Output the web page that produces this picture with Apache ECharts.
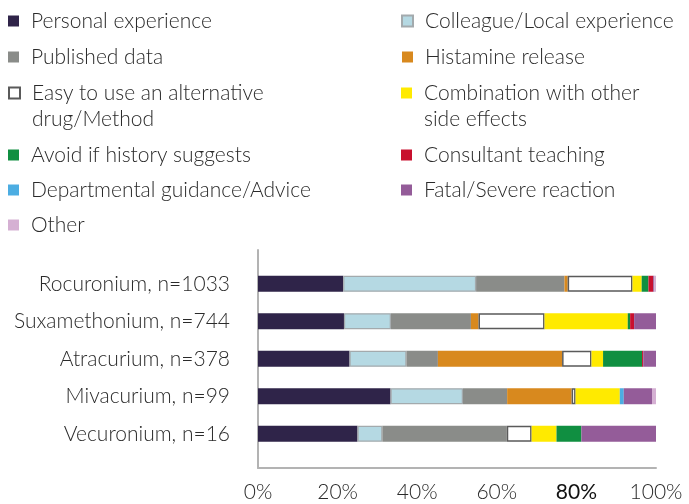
<!DOCTYPE html>
<html>
<head>
<meta charset="utf-8">
<script src="https://cdn.jsdelivr.net/npm/echarts@6/dist/echarts.min.js"></script>
<style>
  html, body { margin: 0; padding: 0; background: #fff; }
  #chart { width: 689px; height: 504px; }
</style>
</head>
<body>
<div id="chart"></div>
<script>
// ---- data ----
var categories = ['Rocuronium, n=1033', 'Suxamethonium, n=744', 'Atracurium, n=378', 'Mivacurium, n=99', 'Vecuronium, n=16'];
var seriesNames = [
  'Personal experience', 'Colleague/Local experience', 'Published data', 'Histamine release',
  'Easy to use an alternative drug/Method', 'Combination with other side effects',
  'Avoid if history suggests', 'Consultant teaching', 'Departmental guidance/Advice',
  'Fatal/Severe reaction', 'Other'
];
var personal     = [21.4, 21.6, 23.0, 33.3, 25.0];
var colleague    = [33.4, 11.8, 14.3, 18.2, 6.25];
var published    = [22.2, 20.1, 7.9, 11.1, 31.25];
var histamine    = [0.8, 1.9, 31.2, 16.2, 0];
var easyAlt      = [16.3, 16.6, 7.4, 1.0, 6.25];
var combination  = [2.3, 20.9, 2.9, 11.1, 6.25];
var avoid        = [1.7, 0.6, 9.8, 0, 6.25];
var consultant   = [1.2, 1.0, 0.3, 0, 0];
var departmental = [0, 0, 0, 1.0, 0];
var fatal        = [0.3, 5.5, 3.2, 7.1, 18.75];
var other        = [0.4, 0, 0, 1.0, 0];
var xTicks = [0, 20, 40, 60, 80, 100];

var values = [personal, colleague, published, histamine, easyAlt, combination, avoid, consultant, departmental, fatal, other];
var colors = ['#2f2449', '#b5d9e3', '#8a8c89', '#d8891e', '#ffffff', '#ffea00', '#108f41', '#c8102e', '#4cade2', '#945c99', '#d5b0d3'];
var borders = [null, '#a3aaad', null, null, '#5a5a5a', null, null, null, null, null, null];

var FONT = 'Lato';
var FS = 21;
var TXT = '#2a2a2a';

var series = seriesNames.map(function (name, i) {
  var st = { color: colors[i] };
  if (borders[i]) { st.borderColor = borders[i]; st.borderWidth = (i === 4 ? 1.5 : 1.2); }
  return {
    name: name, type: 'bar', stack: 'total', xAxisIndex: 0, yAxisIndex: 0,
    barWidth: 16, itemStyle: st, data: values[i], silent: true, animation: false
  };
});

function legendCfg(names, left, top, gap) {
  return {
    data: names,
    orient: 'vertical', left: left, top: top, padding: 0, itemGap: gap,
    itemWidth: 11, itemHeight: 11, icon: 'rect', selectedMode: false,
    formatter: function (n) {
      if (n === 'Easy to use an alternative drug/Method') return '\nEasy to use an alternative\ndrug/Method';
      if (n === 'Combination with other side effects') return '\nCombination with other\nside effects';
      return n;
    },
    textStyle: { fontFamily: FONT, fontWeight: 300, fontSize: FS, color: TXT, lineHeight: 26, padding: [0, 0, 0, 7] }
  };
}

var chart = echarts.init(document.getElementById('chart'), null, { renderer: 'canvas' });
chart.setOption({
  animation: false,
  backgroundColor: '#ffffff',
  legend: [
    legendCfg(['Personal experience', 'Published data'], 8, 8, 10),
    legendCfg(['Easy to use an alternative drug/Method'], 8, 54, 10),
    legendCfg(['Avoid if history suggests', 'Departmental guidance/Advice', 'Other'], 8, 142, 9),
    legendCfg(['Colleague/Local experience', 'Histamine release'], 401, 8, 10),
    legendCfg(['Combination with other side effects'], 401, 54, 10),
    legendCfg(['Consultant teaching', 'Fatal/Severe reaction'], 401, 142, 9)
  ],
  grid: [
    { left: 258, width: 398, top: 265, height: 187.5, containLabel: false },
    { left: 258, width: 398, top: 250, height: 218, containLabel: false }
  ],
  xAxis: [
    { gridIndex: 0, type: 'value', min: 0, max: 100, show: false },
    {
      gridIndex: 1, type: 'value', min: 0, max: 100, interval: 20,
      axisLine: { show: true, lineStyle: { color: '#b3b3b3', width: 2 } },
      axisTick: { show: false }, splitLine: { show: false },
      axisLabel: {
        margin: 14,
        formatter: function (v) {
          return xTicks.indexOf(v) === 4 ? '{b|' + v + '%}' : '{a|' + v + '%}';
        },
        rich: {
          a: { fontFamily: FONT, fontWeight: 300, fontSize: FS, color: TXT },
          b: { fontFamily: FONT, fontWeight: 400, fontSize: FS, color: '#111' }
        }
      }
    }
  ],
  yAxis: [
    {
      gridIndex: 0, type: 'category', data: categories, inverse: true,
      axisLine: { show: false }, axisTick: { show: false },
      axisLabel: { margin: 28, fontFamily: FONT, fontWeight: 300, fontSize: FS, color: TXT }
    },
    {
      gridIndex: 1, type: 'value', min: 0, max: 1,
      axisLine: { show: true, lineStyle: { color: '#b3b3b3', width: 2 } },
      axisTick: { show: false }, axisLabel: { show: false }, splitLine: { show: false }
    }
  ],
  series: series
});
</script>
</body>
</html>
